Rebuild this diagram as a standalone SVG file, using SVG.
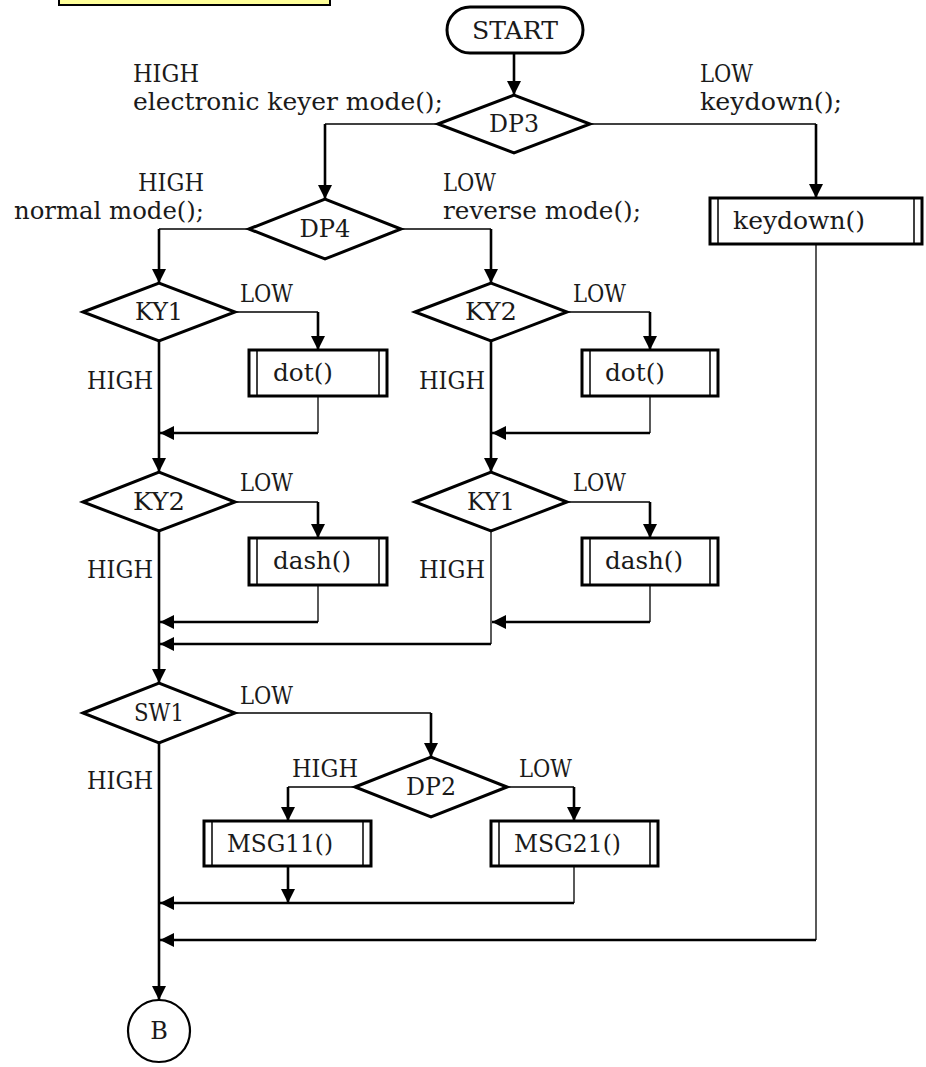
<svg xmlns="http://www.w3.org/2000/svg" width="926" height="1067" viewBox="0 0 926 1067">
  <defs>
    <marker id="arrow" markerUnits="userSpaceOnUse" markerWidth="14" markerHeight="14" refX="14" refY="7" orient="auto">
      <path d="M0,0 L14,7 L0,14 z" fill="#000"/>
    </marker>
    <style>
      text { font-family: "DejaVu Serif", "Liberation Serif", serif; font-size: 24px; fill: #1a1a1a; }
      .mid { text-anchor: middle; }
      .end { text-anchor: end; }
      .shape { fill: #fff; stroke: #000; stroke-width: 3; }
      .inner { stroke: #000; stroke-width: 1.5; }
      .thin { stroke: #000; stroke-width: 1.3; fill: none; }
      .thick { stroke: #000; stroke-width: 2.6; fill: none; marker-end: url(#arrow); }
    </style>
  </defs>

  <rect width="926" height="1067" fill="#fff"/>

  <!-- title banner, clipped at the top edge -->
  <rect x="59" y="-30" width="271" height="35" fill="#ffff99" stroke="#000" stroke-width="2"/>

  <!-- connectors -->
  <g id="connectors">
    <line class="thick" x1="514" y1="53" x2="514" y2="95"/>
    <!-- DP3 branches -->
    <line class="thin" x1="438" y1="124" x2="325" y2="124"/>
    <line class="thick" x1="325" y1="124" x2="325" y2="199"/>
    <line class="thin" x1="590" y1="124" x2="816" y2="124"/>
    <line class="thick" x1="816" y1="124" x2="816" y2="198"/>
    <!-- DP4 branches -->
    <line class="thin" x1="249" y1="229" x2="159" y2="229"/>
    <line class="thick" x1="159" y1="229" x2="159" y2="283"/>
    <line class="thin" x1="401" y1="229" x2="491" y2="229"/>
    <line class="thick" x1="491" y1="229" x2="491" y2="283"/>
    <!-- left column, row 1 -->
    <line class="thin" x1="235" y1="312" x2="318" y2="312"/>
    <line class="thick" x1="318" y1="312" x2="318" y2="350"/>
    <line class="thin" x1="318" y1="396" x2="318" y2="433"/>
    <line class="thick" x1="318" y1="433" x2="160" y2="433"/>
    <line class="thick" x1="159" y1="341" x2="159" y2="472"/>
    <!-- right column, row 1 -->
    <line class="thin" x1="567" y1="312" x2="650" y2="312"/>
    <line class="thick" x1="650" y1="312" x2="650" y2="350"/>
    <line class="thin" x1="650" y1="396" x2="650" y2="433"/>
    <line class="thick" x1="650" y1="433" x2="492" y2="433"/>
    <line class="thick" x1="491" y1="341" x2="491" y2="472"/>
    <!-- left column, row 2 -->
    <line class="thin" x1="235" y1="502" x2="318" y2="502"/>
    <line class="thick" x1="318" y1="502" x2="318" y2="538"/>
    <line class="thin" x1="318" y1="585" x2="318" y2="622"/>
    <line class="thick" x1="318" y1="622" x2="160" y2="622"/>
    <line class="thick" x1="159" y1="531" x2="159" y2="683"/>
    <!-- right column, row 2 -->
    <line class="thin" x1="567" y1="502" x2="650" y2="502"/>
    <line class="thick" x1="650" y1="502" x2="650" y2="538"/>
    <line class="thin" x1="650" y1="585" x2="650" y2="622"/>
    <line class="thick" x1="650" y1="622" x2="492" y2="622"/>
    <line class="thin" x1="491" y1="531" x2="491" y2="644"/>
    <line class="thick" x1="491" y1="644" x2="160" y2="644"/>
    <!-- SW1 / DP2 -->
    <line class="thin" x1="235" y1="713" x2="431" y2="713"/>
    <line class="thick" x1="431" y1="713" x2="431" y2="757"/>
    <line class="thin" x1="355" y1="787" x2="288" y2="787"/>
    <line class="thick" x1="288" y1="787" x2="288" y2="821"/>
    <line class="thin" x1="507" y1="787" x2="574" y2="787"/>
    <line class="thick" x1="574" y1="787" x2="574" y2="821"/>
    <line class="thick" x1="288" y1="866" x2="288" y2="903"/>
    <line class="thin" x1="574" y1="866" x2="574" y2="903"/>
    <line class="thick" x1="574" y1="903" x2="160" y2="903"/>
    <!-- keydown return -->
    <line class="thin" x1="816" y1="244" x2="816" y2="940"/>
    <line class="thick" x1="816" y1="940" x2="160" y2="940"/>
    <!-- exit to connector B -->
    <line class="thick" x1="159" y1="743" x2="159" y2="1000"/>
  </g>

  <!-- branch labels -->
  <g id="labels" lengthAdjust="spacingAndGlyphs">
    <text x="133" y="82" textLength="66" lengthAdjust="spacingAndGlyphs">HIGH</text>
    <text x="133" y="110" textLength="310" lengthAdjust="spacingAndGlyphs">electronic keyer mode();</text>
    <text x="700" y="82" textLength="53" lengthAdjust="spacingAndGlyphs">LOW</text>
    <text x="700" y="110" textLength="142" lengthAdjust="spacingAndGlyphs">keydown();</text>
    <text class="end" x="204" y="191" textLength="66" lengthAdjust="spacingAndGlyphs">HIGH</text>
    <text class="end" x="204" y="219" textLength="190" lengthAdjust="spacingAndGlyphs">normal mode();</text>
    <text x="443" y="191" textLength="53" lengthAdjust="spacingAndGlyphs">LOW</text>
    <text x="443" y="219" textLength="198" lengthAdjust="spacingAndGlyphs">reverse mode();</text>
    <text x="240" y="302" textLength="53" lengthAdjust="spacingAndGlyphs">LOW</text>
    <text x="573" y="302" textLength="53" lengthAdjust="spacingAndGlyphs">LOW</text>
    <text x="87" y="389" textLength="66" lengthAdjust="spacingAndGlyphs">HIGH</text>
    <text x="419" y="389" textLength="66" lengthAdjust="spacingAndGlyphs">HIGH</text>
    <text x="240" y="491" textLength="53" lengthAdjust="spacingAndGlyphs">LOW</text>
    <text x="573" y="491" textLength="53" lengthAdjust="spacingAndGlyphs">LOW</text>
    <text x="87" y="578" textLength="66" lengthAdjust="spacingAndGlyphs">HIGH</text>
    <text x="419" y="578" textLength="66" lengthAdjust="spacingAndGlyphs">HIGH</text>
    <text x="240" y="704" textLength="53" lengthAdjust="spacingAndGlyphs">LOW</text>
    <text x="87" y="789" textLength="66" lengthAdjust="spacingAndGlyphs">HIGH</text>
    <text x="292" y="777" textLength="66" lengthAdjust="spacingAndGlyphs">HIGH</text>
    <text x="519" y="777" textLength="53" lengthAdjust="spacingAndGlyphs">LOW</text>
  </g>

  <g id="start">
    <rect class="shape" x="447" y="7" width="136" height="46" rx="23"/>
    <text class="mid" x="515" y="39" textLength="86" lengthAdjust="spacingAndGlyphs">START</text>
  </g>

  <g id="dp3">
    <polygon class="shape" points="438,124 514,95 590,124 514,153"/>
    <text class="mid" x="514" y="132" textLength="50" lengthAdjust="spacingAndGlyphs">DP3</text>
  </g>

  <g id="dp4">
    <polygon class="shape" points="249,229 325,199 401,229 325,259"/>
    <text class="mid" x="325" y="237" textLength="51" lengthAdjust="spacingAndGlyphs">DP4</text>
  </g>

  <g id="keydown">
    <rect class="shape" x="710" y="198" width="212" height="46"/>
    <line class="inner" x1="718" y1="198" x2="718" y2="244"/>
    <line class="inner" x1="914" y1="198" x2="914" y2="244"/>
    <text x="733" y="229" textLength="132" lengthAdjust="spacingAndGlyphs">keydown()</text>
  </g>

  <g id="ky1-a">
    <polygon class="shape" points="83,312 159,283 235,312 159,341"/>
    <text class="mid" x="159" y="320" textLength="48" lengthAdjust="spacingAndGlyphs">KY1</text>
  </g>

  <g id="dot-a">
    <rect class="shape" x="249" y="350" width="138" height="46"/>
    <line class="inner" x1="257" y1="350" x2="257" y2="396"/>
    <line class="inner" x1="379" y1="350" x2="379" y2="396"/>
    <text x="273" y="381" textLength="60" lengthAdjust="spacingAndGlyphs">dot()</text>
  </g>

  <g id="ky2-b">
    <polygon class="shape" points="415,312 491,283 567,312 491,341"/>
    <text class="mid" x="491" y="320" textLength="52" lengthAdjust="spacingAndGlyphs">KY2</text>
  </g>

  <g id="dot-b">
    <rect class="shape" x="582" y="350" width="136" height="46"/>
    <line class="inner" x1="590" y1="350" x2="590" y2="396"/>
    <line class="inner" x1="710" y1="350" x2="710" y2="396"/>
    <text x="605" y="381" textLength="60" lengthAdjust="spacingAndGlyphs">dot()</text>
  </g>

  <g id="ky2-a">
    <polygon class="shape" points="83,502 159,472 235,502 159,531"/>
    <text class="mid" x="159" y="510" textLength="52" lengthAdjust="spacingAndGlyphs">KY2</text>
  </g>

  <g id="dash-a">
    <rect class="shape" x="249" y="538" width="138" height="47"/>
    <line class="inner" x1="257" y1="538" x2="257" y2="585"/>
    <line class="inner" x1="379" y1="538" x2="379" y2="585"/>
    <text x="273" y="569" textLength="78" lengthAdjust="spacingAndGlyphs">dash()</text>
  </g>

  <g id="ky1-b">
    <polygon class="shape" points="415,502 491,472 567,502 491,531"/>
    <text class="mid" x="491" y="510" textLength="48" lengthAdjust="spacingAndGlyphs">KY1</text>
  </g>

  <g id="dash-b">
    <rect class="shape" x="582" y="538" width="136" height="47"/>
    <line class="inner" x1="590" y1="538" x2="590" y2="585"/>
    <line class="inner" x1="710" y1="538" x2="710" y2="585"/>
    <text x="605" y="569" textLength="78" lengthAdjust="spacingAndGlyphs">dash()</text>
  </g>

  <g id="sw1">
    <polygon class="shape" points="83,713 159,683 235,713 159,743"/>
    <text class="mid" x="159" y="721" textLength="50" lengthAdjust="spacingAndGlyphs">SW1</text>
  </g>

  <g id="dp2">
    <polygon class="shape" points="355,787 431,757 507,787 431,817"/>
    <text class="mid" x="431" y="795" textLength="50" lengthAdjust="spacingAndGlyphs">DP2</text>
  </g>

  <g id="msg11">
    <rect class="shape" x="204" y="821" width="167" height="45"/>
    <line class="inner" x1="212" y1="821" x2="212" y2="866"/>
    <line class="inner" x1="363" y1="821" x2="363" y2="866"/>
    <text x="227" y="852" textLength="106" lengthAdjust="spacingAndGlyphs">MSG11()</text>
  </g>

  <g id="msg21">
    <rect class="shape" x="491" y="821" width="167" height="45"/>
    <line class="inner" x1="499" y1="821" x2="499" y2="866"/>
    <line class="inner" x1="650" y1="821" x2="650" y2="866"/>
    <text x="514" y="852" textLength="107" lengthAdjust="spacingAndGlyphs">MSG21()</text>
  </g>

  <g id="b">
    <circle cx="159" cy="1031" r="31" fill="#fff" stroke="#000" stroke-width="2.2"/>
    <text class="mid" x="159" y="1039">B</text>
  </g>
</svg>
